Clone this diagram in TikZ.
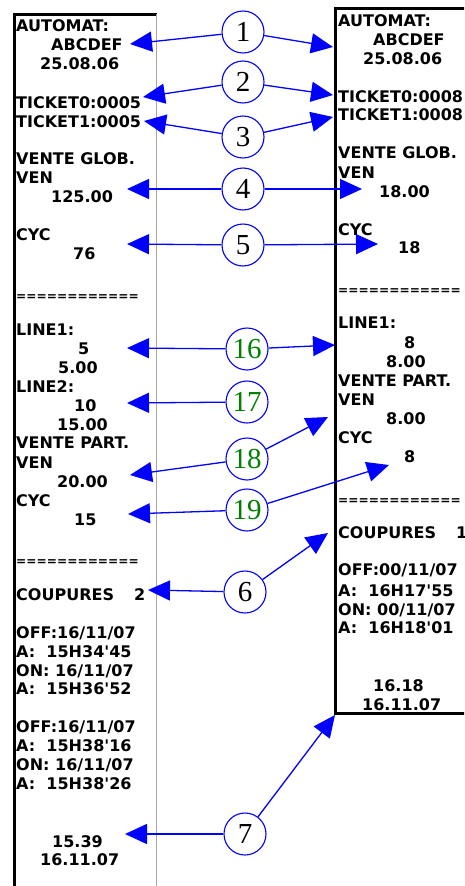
\documentclass[tikz,border=0pt]{standalone}
\usepackage{fontspec}
\setmainfont{Liberation Serif}
\newfontfamily\ticketfont{DejaVu Sans}
\usetikzlibrary{arrows.meta}
\definecolor{numgreen}{RGB}{0,128,0}
\tikzset{
    ticketline/.style = {
        anchor = base west,
        inner sep = 0pt,
        yshift = -5.9pt,
        font = \ticketfont\bfseries\fontsize{16}{18}\selectfont
    },
    ticketrule/.style = {
        ticketline,
        font = \ticketfont\bfseries\fontsize{12.2}{14}\selectfont
    },
    num/.style = {
        circle,
        draw = blue,
        line width = 1.1pt,
        minimum size = 42pt,
        inner sep = 0pt,
        font = \fontsize{29}{29}\selectfont
    },
    arr/.style = {
        draw = blue,
        line width = 1.3pt,
        -{Triangle[length=22pt,width=20pt]}
    }
}
\begin{document}
\begin{tikzpicture}[x=1pt, y=-1pt]
            \useasboundingbox (0,0) rectangle (464,886);
            \clip (0,0) rectangle (464,886);
            \draw[line width=3pt] (14,890) -- (14,14) -- (157,14);
            \draw[gray!70, line width=0.8pt] (156,14) -- (156,890);
            \draw[line width=2.5pt] (470,8.5) -- (335.5,8.5) -- (335.5,713.5) -- (470,713.5);
            \foreach \x/\y/\t [count=\i] in {
                16/26/{AUTOMAT:}, 51/45/{ABCDEF}, 40/64/{25.08.06},
                16/103/{TICKET0:0005}, 16/122/{TICKET1:0005},
                16/159/{VENTE GLOB.}, 16/178/{VEN}, 51/197/{125.00},
                16/235/{CYC}, 73/254/{76},
                16/330/{LINE1:}, 78/349/{5}, 58/368/{5.00},
                16/387/{LINE2:}, 74/406/{10}, 57/425/{15.00},
                16/443/{VENTE PART.}, 16/463/{VEN}, 57/482/{20.00},
                16/501/{CYC}, 74/520/{15},
                16/595/{COUPURES\hspace{20pt}2},
                16/633/{OFF:16/11/07}, 16/652/{A:\hspace{0.7em}15H34\textquotesingle45},
                16/671/{ON: 16/11/07}, 16/689/{A:\hspace{0.7em}15H36\textquotesingle52},
                16/727/{OFF:16/11/07}, 16/746/{A:\hspace{0.7em}15H38\textquotesingle16},
                16/765/{ON: 16/11/07}, 16/784/{A:\hspace{0.7em}15H38\textquotesingle26},
                52/842/{15.39}, 40/860/{16.11.07}
            }
                \node[ticketline] (L\i) at (\x,\y) {\t};
            \foreach \x/\y/\t [count=\i] in {
                338/21/{AUTOMAT:}, 373/40/{ABCDEF}, 363/59/{25.08.06},
                338/97/{TICKET0:0008}, 338/115/{TICKET1:0008},
                338/153/{VENTE GLOB.}, 338/173/{VEN}, 379/192/{18.00},
                338/230/{CYC}, 398/248/{18},
                338/323/{LINE1:}, 404/343/{8}, 386/362/{8.00},
                338/381/{VENTE PART.}, 338/400/{VEN}, 386/419/{8.00},
                338/438/{CYC}, 404/457/{8},
                338/533/{COUPURES\hspace{20pt}1},
                338/570/{OFF:00/11/07}, 338/591/{A:\hspace{0.7em}16H17\textquotesingle55},
                338/610/{ON: 00/11/07}, 338/628/{A:\hspace{0.7em}16H18\textquotesingle01},
                373/686/{16.18}, 362/705/{16.11.07}
            }
                \node[ticketline] (R\i) at (\x,\y) {\t};
            \node[ticketrule] (Lrule1) at (16,295) {============};
            \node[ticketrule] (Lrule2) at (16,560) {============};
            \node[ticketrule] (Rrule1) at (338,289) {============};
            \node[ticketrule] (Rrule2) at (338,499) {============};
            \node[num] (n1) at (243,32) {1};
            \node[num] (n2) at (243,82) {2};
            \node[num] (n3) at (243,137) {3};
            \node[num] (n4) at (243,189) {4};
            \node[num] (n5) at (243,245) {5};
            \node[num, text=numgreen] (n16) at (247,349) {16};
            \node[num, text=numgreen] (n17) at (247,402) {17};
            \node[num, text=numgreen] (n18) at (247,459) {18};
            \node[num, text=numgreen] (n19) at (247,510) {19};
            \node[num] (n6) at (245,592) {6};
            \node[num] (n7) at (245,834) {7};
            \coordinate (a1l) at (130,44);
            \coordinate (a1r) at (333,47);
            \coordinate (a2l) at (143,97);
            \coordinate (a2r) at (333,95);
            \coordinate (a3l) at (144,121);
            \coordinate (a3r) at (333,117);
            \coordinate (a4l) at (127,189);
            \coordinate (a4r) at (362,189);
            \coordinate (a5l) at (127,244);
            \coordinate (a5r) at (378,244);
            \coordinate (a16l) at (127,348);
            \coordinate (a16r) at (335,345);
            \coordinate (a17l) at (127,403);
            \coordinate (a18l) at (130,475);
            \coordinate (a18r) at (328,417);
            \coordinate (a19l) at (128,514);
            \coordinate (a19r) at (389,465);
            \coordinate (a6l) at (148,590);
            \coordinate (a6r) at (328,533);
            \coordinate (a7l) at (125,834);
            \coordinate (a7r) at (335,715);
            \draw[arr] (n1) -- (a1l);
            \draw[arr] (n1) -- (a1r);
            \draw[arr] (n2) -- (a2l);
            \draw[arr] (n2) -- (a2r);
            \draw[arr] (n3) -- (a3l);
            \draw[arr] (n3) -- (a3r);
            \draw[arr] (n4) -- (a4l);
            \draw[arr] (n4) -- (a4r);
            \draw[arr] (n5) -- (a5l);
            \draw[arr] (n5) -- (a5r);
            \draw[arr] (n16) -- (a16l);
            \draw[arr] (n16) -- (a16r);
            \draw[arr] (n17) -- (a17l);
            \draw[arr] (n18) -- (a18l);
            \draw[arr] (n18) -- (a18r);
            \draw[arr] (n19) -- (a19l);
            \draw[arr] (n19) -- (a19r);
            \draw[arr] (n6) -- (a6l);
            \draw[arr] (n6) -- (a6r);
            \draw[arr] (n7) -- (a7l);
            \draw[arr] (n7) -- (a7r);
        \end{tikzpicture}
\end{document}
